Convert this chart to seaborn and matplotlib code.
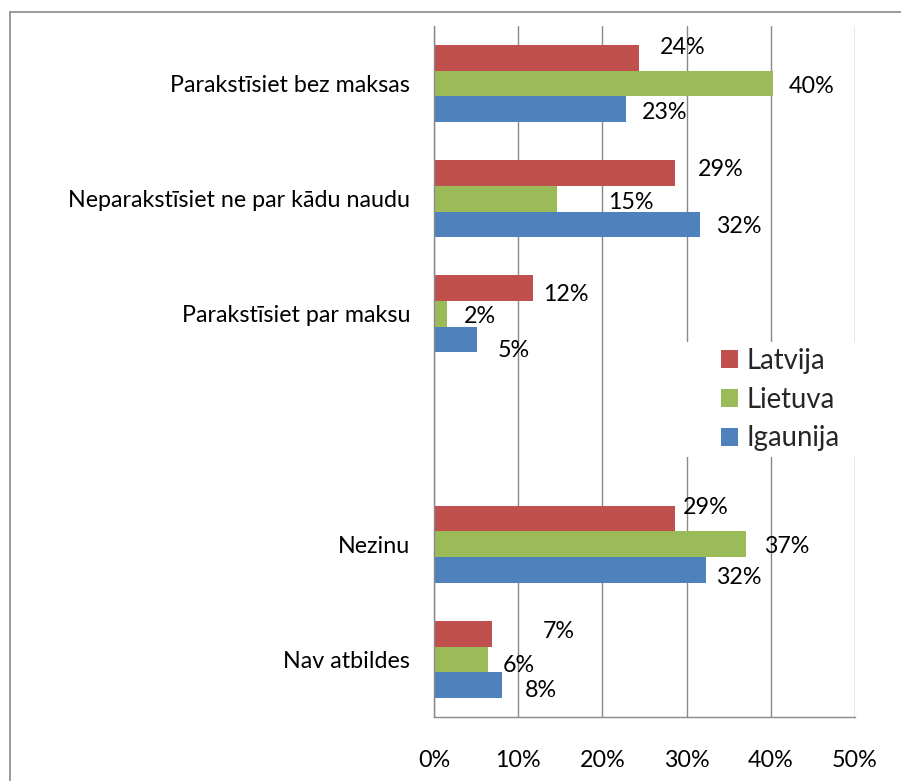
import matplotlib
matplotlib.use("Agg")
import matplotlib.pyplot as plt
from matplotlib.patches import Rectangle
import seaborn as sns
import pandas as pd

# Survey answers per country (percent of respondents)
categories = ["Parakstīsiet bez maksas", "Neparakstīsiet ne par kādu naudu",
              "Parakstīsiet par maksu", "", "Nezinu", "Nav atbildes"]
series = ["Latvija", "Lietuva", "Igaunija"]
latvija = [24.3, 28.6, 11.7, None, 28.6, 6.9]
lietuva = [40.3, 14.6, 1.6, None, 37.1, 6.4]
igaunija = [22.8, 31.6, 5.1, None, 32.3, 8.1]
x_ticks = [0, 10, 20, 30, 40, 50]
x_tick_labels = ["0%", "10%", "20%", "30%", "40%", "50%"]

colors = ["#C0504D", "#9BBB59", "#4F81BD"]
grey = "#898989"

# hand-placed data label nudges: (category, series) -> (px right of bar end, px below bar centre)
label_nudge = {
    (0, 0): (21, -12), (0, 1): (15, 1.5), (0, 2): (16, 1.5),
    (1, 0): (23, -5), (1, 1): (51, 1.5), (1, 2): (16, 0.5),
    (2, 0): (11, 4), (2, 1): (16, 1), (2, 2): (21, 9),
    (4, 0): (8, -13), (4, 1): (18, 0.5), (4, 2): (10, 5.5),
    (5, 0): (51, -4.5), (5, 1): (15, 4), (5, 2): (23, 3.5),
}

rows = []
for name, vals in zip(series, [latvija, lietuva, igaunija]):
    for cat, v in zip(categories, vals):
        if v is not None:
            rows.append({"atbilde": cat, "valsts": name, "procenti": v})
df = pd.DataFrame(rows)

sns.set_style("white")
plt.rcParams["font.family"] = ["Lato", "DejaVu Sans"]

W, H = 901, 781
fig = plt.figure(figsize=(W / 100, H / 100), dpi=100)
ax = fig.add_axes([434 / W, (H - 717) / H, (855 - 434) / W, (717 - 26) / H])

group_width = 0.67
sns.barplot(data=df, y="atbilde", x="procenti", hue="valsts", order=categories,
            hue_order=series, palette=colors, width=group_width, orient="h",
            saturation=1, linewidth=0, ax=ax)

ax.set_ylim(len(categories) - 0.5, -0.5)
ax.set_xlim(0, 50)
ax.set_xlabel("")
ax.set_ylabel("")

tick_px = 23.2
tick_pt = tick_px * 0.72
ax.set_xticks(x_ticks)
ax.set_xticklabels(x_tick_labels, fontsize=tick_pt)
ax.set_yticks(range(len(categories)))
ax.set_yticklabels(categories, fontsize=tick_pt)
ax.set_yticks([i - 0.5 for i in range(len(categories) + 1)], minor=True)

ax.tick_params(axis="y", which="major", length=0, pad=24 * 0.72, labelcolor="black")
ax.tick_params(axis="y", which="minor", length=5, width=1, color=grey, direction="out")
ax.tick_params(axis="x", which="major", length=5, width=1, color=grey, direction="out",
               pad=18.5, labelcolor="black")

for side in ["top", "right"]:
    ax.spines[side].set_visible(False)
for side in ["left", "bottom"]:
    ax.spines[side].set_color(grey)
    ax.spines[side].set_linewidth(1.0)

ax.xaxis.grid(True, color=grey, linewidth=1.0)
ax.yaxis.grid(False)
ax.set_axisbelow(True)

# data labels
bar_h = group_width / len(series)
cap_px = 0.72 * tick_px
for p in ax.patches:
    w = p.get_width()
    if not (w == w) or w <= 0:
        continue
    yc = p.get_y() + p.get_height() / 2
    ci = int(round(yc))
    si = int(round((yc - ci) / bar_h)) + 1
    dx, dy = label_nudge.get((ci, si), (12, 0))
    ax.annotate(f"{w:.0f}%", xy=(w, yc), xytext=(dx, -(dy + cap_px / 2)),
                textcoords="offset pixels", ha="left", va="baseline",
                fontsize=tick_pt, color="black", annotation_clip=False)

# legend with a white backing that interrupts the grid
handles, labels = ax.get_legend_handles_labels()
leg_px = 27.5
leg = ax.legend(handles, labels, loc="upper left",
                bbox_to_anchor=(721 / W, 1 - 348 / H), bbox_transform=fig.transFigure,
                frameon=False, fontsize=leg_px * 0.72, borderpad=0, borderaxespad=0,
                handlelength=0.62, handleheight=0.62, handletextpad=0.3,
                labelspacing=0.46)
leg.set_zorder(5)
ax.add_patch(Rectangle((686 / W, 1 - 457 / H), (862 - 686) / W, (457 - 342) / H,
                       transform=fig.transFigure, facecolor="white", edgecolor="none",
                       zorder=1.5, clip_on=False))

# chart frame
fig.add_artist(Rectangle((10 / W, -0.1), 2, 1.1 - 12 / H, transform=fig.transFigure,
                         fill=False, edgecolor=grey, linewidth=1.2))

fig.savefig("out.png", dpi=100)
